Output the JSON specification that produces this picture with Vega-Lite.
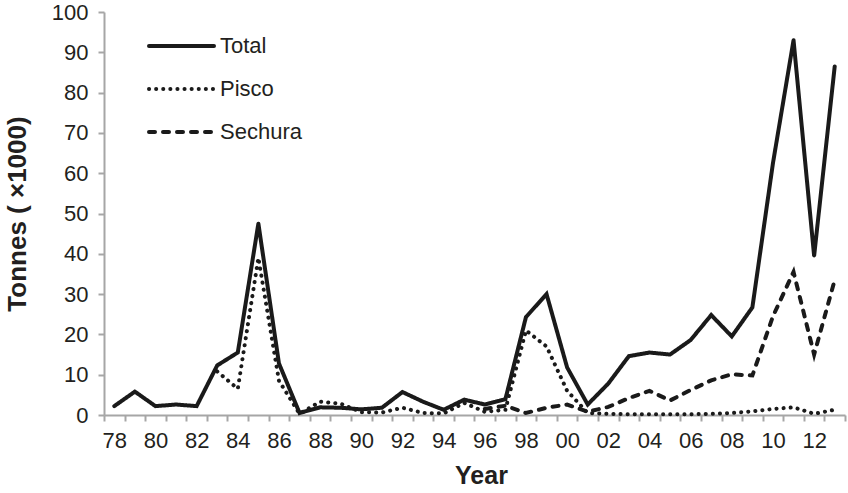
{
  "$schema": "https://vega.github.io/schema/vega-lite/v6.json",
  "width": 741,
  "height": 403,
  "autosize": {"type": "none"},
  "padding": {"left": 104, "top": 12, "right": 3, "bottom": 78},
  "config": {"view": {"stroke": null}, "font": "Liberation Sans"},
  "data": {
    "values": [
      {"year": 1996, "series": "Sechura", "value": 1.5},
      {"year": 1997, "series": "Sechura", "value": 2.3},
      {"year": 1998, "series": "Sechura", "value": 0.5},
      {"year": 1999, "series": "Sechura", "value": 1.8},
      {"year": 2000, "series": "Sechura", "value": 2.6},
      {"year": 2001, "series": "Sechura", "value": 0.8},
      {"year": 2002, "series": "Sechura", "value": 2.0},
      {"year": 2003, "series": "Sechura", "value": 4.2},
      {"year": 2004, "series": "Sechura", "value": 6.0},
      {"year": 2005, "series": "Sechura", "value": 3.6},
      {"year": 2006, "series": "Sechura", "value": 6.2},
      {"year": 2007, "series": "Sechura", "value": 8.6},
      {"year": 2008, "series": "Sechura", "value": 10.1},
      {"year": 2009, "series": "Sechura", "value": 9.8},
      {"year": 2010, "series": "Sechura", "value": 24.5},
      {"year": 2011, "series": "Sechura", "value": 35.5},
      {"year": 2012, "series": "Sechura", "value": 15.0},
      {"year": 2013, "series": "Sechura", "value": 33.5},

      {"year": 1983, "series": "Pisco", "value": 10.8},
      {"year": 1984, "series": "Pisco", "value": 6.5},
      {"year": 1985, "series": "Pisco", "value": 39.0},
      {"year": 1986, "series": "Pisco", "value": 8.5},
      {"year": 1987, "series": "Pisco", "value": 0.3},
      {"year": 1988, "series": "Pisco", "value": 3.3},
      {"year": 1989, "series": "Pisco", "value": 2.8},
      {"year": 1990, "series": "Pisco", "value": 0.7},
      {"year": 1991, "series": "Pisco", "value": 0.6},
      {"year": 1992, "series": "Pisco", "value": 1.8},
      {"year": 1993, "series": "Pisco", "value": 0.5},
      {"year": 1994, "series": "Pisco", "value": 0.4},
      {"year": 1995, "series": "Pisco", "value": 3.0},
      {"year": 1996, "series": "Pisco", "value": 0.8},
      {"year": 1997, "series": "Pisco", "value": 1.3},
      {"year": 1998, "series": "Pisco", "value": 21.0},
      {"year": 1999, "series": "Pisco", "value": 17.0},
      {"year": 2000, "series": "Pisco", "value": 6.0},
      {"year": 2001, "series": "Pisco", "value": 0.5},
      {"year": 2002, "series": "Pisco", "value": 0.3},
      {"year": 2003, "series": "Pisco", "value": 0.2},
      {"year": 2004, "series": "Pisco", "value": 0.2},
      {"year": 2005, "series": "Pisco", "value": 0.2},
      {"year": 2006, "series": "Pisco", "value": 0.2},
      {"year": 2007, "series": "Pisco", "value": 0.3},
      {"year": 2008, "series": "Pisco", "value": 0.5},
      {"year": 2009, "series": "Pisco", "value": 0.9},
      {"year": 2010, "series": "Pisco", "value": 1.5},
      {"year": 2011, "series": "Pisco", "value": 1.9},
      {"year": 2012, "series": "Pisco", "value": 0.3},
      {"year": 2013, "series": "Pisco", "value": 1.3},

      {"year": 1978, "series": "Total", "value": 2.2},
      {"year": 1979, "series": "Total", "value": 5.8},
      {"year": 1980, "series": "Total", "value": 2.2},
      {"year": 1981, "series": "Total", "value": 2.6},
      {"year": 1982, "series": "Total", "value": 2.2},
      {"year": 1983, "series": "Total", "value": 12.3},
      {"year": 1984, "series": "Total", "value": 15.5},
      {"year": 1985, "series": "Total", "value": 47.5},
      {"year": 1986, "series": "Total", "value": 12.8},
      {"year": 1987, "series": "Total", "value": 0.5},
      {"year": 1988, "series": "Total", "value": 1.9},
      {"year": 1989, "series": "Total", "value": 1.8},
      {"year": 1990, "series": "Total", "value": 1.4},
      {"year": 1991, "series": "Total", "value": 1.8},
      {"year": 1992, "series": "Total", "value": 5.7},
      {"year": 1993, "series": "Total", "value": 3.3},
      {"year": 1994, "series": "Total", "value": 1.3},
      {"year": 1995, "series": "Total", "value": 3.8},
      {"year": 1996, "series": "Total", "value": 2.6},
      {"year": 1997, "series": "Total", "value": 3.9},
      {"year": 1998, "series": "Total", "value": 24.3},
      {"year": 1999, "series": "Total", "value": 30.0},
      {"year": 2000, "series": "Total", "value": 11.8},
      {"year": 2001, "series": "Total", "value": 2.6},
      {"year": 2002, "series": "Total", "value": 7.8},
      {"year": 2003, "series": "Total", "value": 14.6},
      {"year": 2004, "series": "Total", "value": 15.5},
      {"year": 2005, "series": "Total", "value": 15.0},
      {"year": 2006, "series": "Total", "value": 18.6},
      {"year": 2007, "series": "Total", "value": 24.8},
      {"year": 2008, "series": "Total", "value": 19.5},
      {"year": 2009, "series": "Total", "value": 26.7},
      {"year": 2010, "series": "Total", "value": 62.5},
      {"year": 2011, "series": "Total", "value": 93.0},
      {"year": 2012, "series": "Total", "value": 39.5},
      {"year": 2013, "series": "Total", "value": 86.5}
    ]
  },
  "mark": {"type": "line", "strokeWidth": 4, "strokeCap": "round", "strokeJoin": "miter", "color": "#1a1a1a"},
  "encoding": {
    "x": {
      "field": "year",
      "type": "ordinal",
      "bandPosition": 0.5,
      "scale": {"type": "band", "paddingInner": 0, "paddingOuter": 0},
      "axis": {
        "title": "Year",
        "tickBand": "extent",
        "labelExpr": "datum.value % 2 == 0 ? substring(format(datum.value, 'd'), 2) : ''",
        "labelAngle": 0,
        "labelOverlap": false,
        "domainColor": "#a6a6a6",
        "domainWidth": 2,
        "tickColor": "#a6a6a6",
        "tickWidth": 2,
        "tickSize": 6,
        "labelFont": "Liberation Sans",
        "labelFontSize": 22,
        "labelColor": "#231f20",
        "labelPadding": 9,
        "titleFont": "Liberation Sans",
        "titleFontSize": 25,
        "titleFontWeight": "bold",
        "titleColor": "#231f20",
        "titlePadding": 12,
        "titleX": 377
      }
    },
    "y": {
      "field": "value",
      "type": "quantitative",
      "scale": {"domain": [0, 100], "nice": false},
      "axis": {
        "title": "Tonnes ( ×1000)",
        "values": [0, 10, 20, 30, 40, 50, 60, 70, 80, 90, 100],
        "grid": false,
        "domainColor": "#a6a6a6",
        "domainWidth": 2,
        "tickColor": "#a6a6a6",
        "tickWidth": 2,
        "tickSize": 6,
        "labelFont": "Liberation Sans",
        "labelFontSize": 22,
        "labelColor": "#231f20",
        "labelPadding": 10,
        "titleFont": "Liberation Sans",
        "titleFontSize": 26,
        "titleFontWeight": "bold",
        "titleColor": "#231f20",
        "titlePadding": 21
      }
    },
    "strokeDash": {
      "field": "series",
      "type": "nominal",
      "scale": {"domain": ["Total", "Pisco", "Sechura"], "range": [[1, 0], [0.1, 7], [6, 8]]},
      "legend": {
        "orient": "none",
        "legendX": 43,
        "legendY": 13,
        "title": null,
        "symbolType": "stroke",
        "symbolSize": 4225,
        "symbolStrokeWidth": 4,
        "symbolStrokeColor": "#1a1a1a",
        "labelFont": "Liberation Sans",
        "labelFontSize": 22,
        "labelColor": "#231f20",
        "labelOffset": 4,
        "clipHeight": 42,
        "rowPadding": 1,
        "encode": {"symbols": {"update": {"strokeCap": {"value": "round"}}}}
      }
    }
  }
}
